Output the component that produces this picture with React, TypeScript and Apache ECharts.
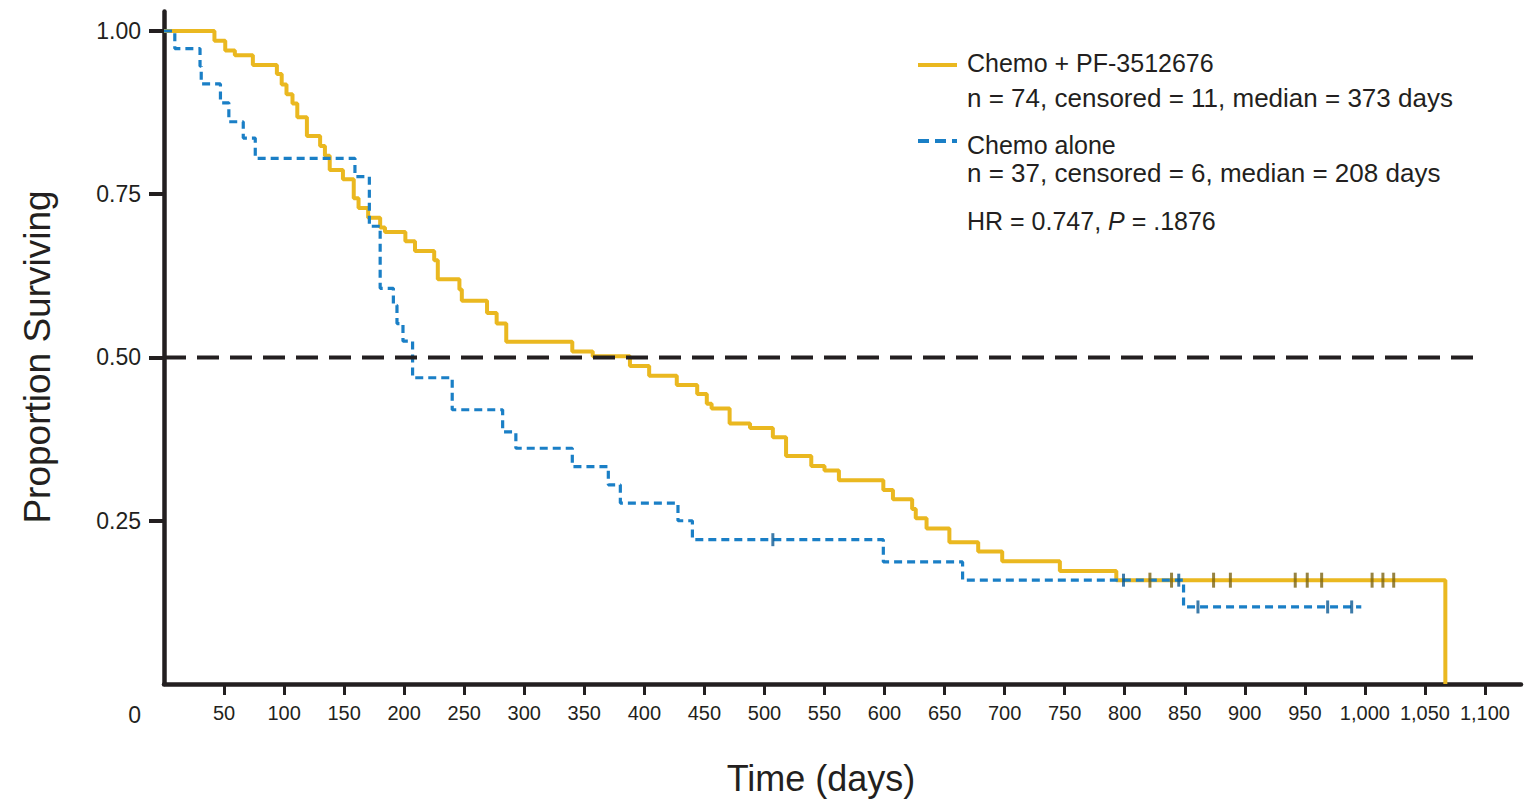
import React, { useEffect, useRef } from "react";
import * as echarts from "echarts";

// Kaplan-Meier: Chemo + PF-3512676 (day at which survival changes, new survival)
const yellowDays = [0, 42, 51, 59, 74, 94, 98, 102, 107, 111, 119, 130, 134, 138, 149, 158, 162, 170, 180, 184, 201, 209, 225, 228, 246, 248, 269, 277, 285, 340, 357, 388, 404, 427, 444, 452, 456, 471, 488, 507, 518, 539, 550, 562, 599, 607, 623, 626, 635, 654, 678, 698, 746, 793, 1067];
const yellowSurv = [1.0, 0.985, 0.97, 0.963, 0.948, 0.934, 0.918, 0.903, 0.889, 0.868, 0.839, 0.824, 0.809, 0.787, 0.773, 0.744, 0.729, 0.714, 0.699, 0.692, 0.678, 0.663, 0.649, 0.62, 0.604, 0.587, 0.568, 0.552, 0.524, 0.509, 0.502, 0.487, 0.472, 0.458, 0.444, 0.429, 0.422, 0.399, 0.392, 0.378, 0.349, 0.334, 0.327, 0.312, 0.297, 0.283, 0.268, 0.254, 0.238, 0.217, 0.203, 0.188, 0.173, 0.159, 0];

// Kaplan-Meier: Chemo alone
const blueDays = [0, 9, 30, 31, 47, 54, 66, 76, 159, 171, 180, 191, 194, 199, 207, 240, 282, 293, 340, 370, 380, 428, 440, 599, 665, 849, 997];
const blueSurv = [1.0, 0.973, 0.946, 0.919, 0.89, 0.861, 0.836, 0.805, 0.777, 0.701, 0.606, 0.58, 0.552, 0.525, 0.469, 0.42, 0.386, 0.361, 0.333, 0.305, 0.277, 0.25, 0.221, 0.187, 0.159, 0.118, 0.118];

// Censoring marks (days)
const yellowCensorDays = [821, 839, 874, 888, 942, 952, 964, 1006, 1015, 1024];
const blueCensorDays = [507, 799, 845, 861, 969, 989];

// Median reference line
const refDays = [0, 1092];
const refSurv = [0.5, 0.5];

// Axis ticks
const xTickValues = [50, 100, 150, 200, 250, 300, 350, 400, 450, 500, 550, 600, 650, 700, 750, 800, 850, 900, 950, 1000, 1050, 1100];
const yTickValues = [0.25, 0.5, 0.75, 1.0];

// Texts
const xTitle = "Time (days)";
const yTitle = "Proportion Surviving";
const originLabel = "0";
const legendArm1 = "Chemo + PF-3512676";
const legendArm1Stats = "n = 74, censored = 11, median = 373 days";
const legendArm2 = "Chemo alone";
const legendArm2Stats = "n = 37, censored = 6, median = 208 days";
const hrText = "{n|HR = 0.747, }{i|P}{n| = .1876}";

const YELLOW = "#EAB820";
const BLUE = "#1A7FC6";
const INK = "#231F20";
const FONT = "'Liberation Sans', Arial, Helvetica, sans-serif";

function stepValue(days: number[], surv: number[], t: number): number {
  let v = surv[0];
  for (let i = 0; i < days.length; i++) {
    if (days[i] <= t) v = surv[i];
  }
  return v;
}

function zip(a: number[], b: number[]) {
  return a.map((d, i) => [d, b[i]]);
}

export default function App() {
  const ref = useRef<HTMLDivElement>(null);

  useEffect(() => {
    if (!ref.current) return;
    const chart = echarts.init(ref.current, undefined, { renderer: "svg" });

    const option: any = {
      animation: false,
      backgroundColor: "#ffffff",
      grid: { left: 164, right: 3, top: 11.4, bottom: 119, containLabel: false },
      xAxis: {
        type: "value",
        min: 0,
        max: 1130,
        axisLine: { show: true, onZero: false, lineStyle: { color: INK, width: 4.5 } },
        axisTick: { show: true, customValues: xTickValues, length: 11, lineStyle: { color: INK, width: 3 } },
        axisLabel: {
          show: true,
          customValues: xTickValues,
          margin: 19,
          color: INK,
          fontFamily: FONT,
          fontSize: 20,
          formatter: (v: number) => v.toLocaleString("en-US"),
        },
        splitLine: { show: false },
      },
      yAxis: {
        type: "value",
        min: 0,
        max: 1.03,
        axisLine: { show: true, onZero: false, lineStyle: { color: INK, width: 4.5 } },
        axisTick: { show: true, customValues: yTickValues, length: 15, lineStyle: { color: INK, width: 4 } },
        axisLabel: {
          show: true,
          customValues: yTickValues,
          margin: 23,
          color: INK,
          fontFamily: FONT,
          fontSize: 23,
          formatter: (v: number) => v.toFixed(2),
        },
        splitLine: { show: false },
      },
      series: [
        {
          name: legendArm1,
          type: "line",
          step: "end",
          data: zip(yellowDays, yellowSurv),
          symbol: "none",
          lineStyle: { color: YELLOW, width: 4 },
          z: 2,
          silent: true,
        },
        {
          name: legendArm2,
          type: "line",
          step: "end",
          data: zip(blueDays, blueSurv),
          symbol: "none",
          lineStyle: { color: BLUE, width: 3.2, type: [8, 5] },
          z: 3,
          silent: true,
        },
        {
          name: "median",
          type: "line",
          data: zip(refDays, refSurv),
          symbol: "none",
          lineStyle: { color: INK, width: 4, type: [22, 11] },
          z: 4,
          silent: true,
        },
        {
          name: "censor1",
          type: "scatter",
          data: yellowCensorDays.map((d) => [d, stepValue(yellowDays, yellowSurv, d)]),
          symbol: "rect",
          symbolSize: [3, 15],
          itemStyle: { color: "#7D6410" },
          z: 5,
          silent: true,
        },
        {
          name: "censor2",
          type: "scatter",
          data: blueCensorDays.map((d) => [d, stepValue(blueDays, blueSurv, d)]),
          symbol: "rect",
          symbolSize: [3, 13],
          itemStyle: { color: "#0D5A93" },
          z: 5,
          silent: true,
        },
      ],
      graphic: [
        {
          type: "text",
          x: 821,
          y: 778,
          style: { text: xTitle, fill: INK, fontFamily: FONT, fontSize: 36, align: "center", verticalAlign: "middle" },
        },
        {
          type: "text",
          x: 37,
          y: 357,
          rotation: Math.PI / 2,
          style: { text: yTitle, fill: INK, fontFamily: FONT, fontSize: 37, align: "center", verticalAlign: "middle" },
        },
        {
          type: "text",
          x: 141,
          y: 715,
          style: { text: originLabel, fill: INK, fontFamily: FONT, fontSize: 23, align: "right", verticalAlign: "middle" },
        },
        {
          type: "line",
          shape: { x1: 918, y1: 65, x2: 957, y2: 65 },
          style: { stroke: YELLOW, lineWidth: 4 },
        },
        {
          type: "text",
          x: 967,
          y: 63,
          style: { text: legendArm1, fill: INK, fontFamily: FONT, fontSize: 25, align: "left", verticalAlign: "middle" },
        },
        {
          type: "text",
          x: 967,
          y: 98,
          style: { text: legendArm1Stats, fill: INK, fontFamily: FONT, fontSize: 26, align: "left", verticalAlign: "middle" },
        },
        {
          type: "line",
          shape: { x1: 918, y1: 141, x2: 957, y2: 141 },
          style: { stroke: BLUE, lineWidth: 4, lineDash: [11, 6] },
        },
        {
          type: "text",
          x: 967,
          y: 145,
          style: { text: legendArm2, fill: INK, fontFamily: FONT, fontSize: 25, align: "left", verticalAlign: "middle" },
        },
        {
          type: "text",
          x: 967,
          y: 173,
          style: { text: legendArm2Stats, fill: INK, fontFamily: FONT, fontSize: 26, align: "left", verticalAlign: "middle" },
        },
        {
          type: "text",
          x: 967,
          y: 221,
          style: {
            text: hrText,
            fill: INK,
            fontFamily: FONT,
            fontSize: 25,
            align: "left",
            verticalAlign: "middle",
            rich: {
              n: { fontFamily: FONT, fontSize: 25, fill: INK },
              i: { fontFamily: FONT, fontSize: 25, fontStyle: "italic", fill: INK },
            },
          },
        },
      ],
    };

    chart.setOption(option);
    return () => chart.dispose();
  }, []);

  return (
    <div
      ref={ref}
      style={{ position: "fixed", left: 0, top: 0, width: "1524px", height: "803px", background: "#fff" }}
    />
  );
}
